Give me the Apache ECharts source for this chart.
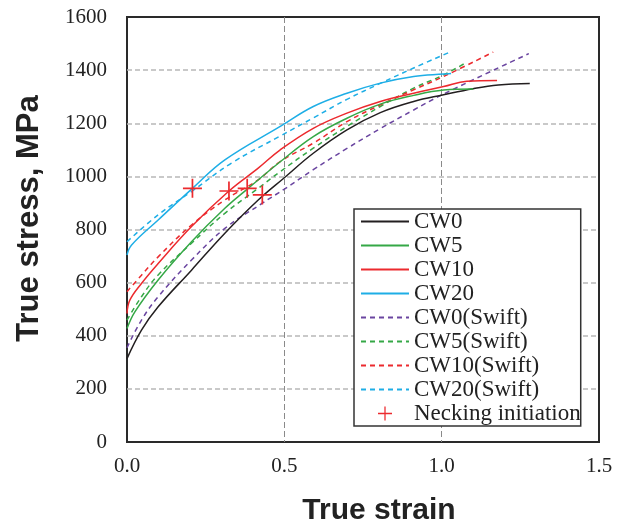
<!DOCTYPE html>
<html>
<head>
<meta charset="utf-8">
<script src="https://cdn.jsdelivr.net/npm/echarts@6/dist/echarts.min.js"></script>
<style>html,body{margin:0;padding:0;background:#fff;}#c{width:623px;height:524px;}</style>
</head>
<body>
<div id="c"></div>
<script>
// Tick labels
var xTickLabels = ['0.0', '0.5', '1.0', '1.5'];
var yTickLabels = ['0', '200', '400', '600', '800', '1000', '1200', '1400', '1600'];

// Experimental curves [true strain, true stress MPa]
var cw0 = [[0,314],[0.046,421],[0.099,509],[0.205,647],[0.311,786],[0.417,911],[0.5,995],[0.592,1087],[0.699,1175],[0.805,1240],[0.911,1282],[1.006,1307],[1.10,1330],[1.18,1344],[1.28,1350]];
var cw5 = [[0,427],[0.025,490],[0.099,610],[0.205,754],[0.311,880],[0.385,955],[0.487,1055],[0.592,1150],[0.699,1219],[0.805,1272],[0.911,1305],[1.006,1325],[1.10,1329]];
var cw10 = [[0,484],[0.009,534],[0.046,597],[0.099,672],[0.205,811],[0.324,945],[0.417,1031],[0.487,1100],[0.592,1181],[0.699,1238],[0.805,1282],[0.911,1313],[1.006,1338],[1.08,1358],[1.176,1361]];
var cw20 = [[0,704],[0.014,741],[0.099,836],[0.208,955],[0.311,1062],[0.487,1188],[0.592,1263],[0.699,1313],[0.805,1351],[0.911,1376],[1.006,1385],[1.03,1387]];

// Swift fits
var cw0Swift = [[0,355],[0.046,459],[0.099,547],[0.205,685],[0.311,804],[0.43,899],[0.5,952],[0.592,1025],[0.699,1105],[0.805,1180],[0.911,1250],[1.006,1310],[1.277,1462]];
var cw5Swift = [[0,459],[0.046,547],[0.099,629],[0.205,748],[0.311,861],[0.417,955],[0.487,1018],[0.592,1106],[0.699,1188],[0.805,1263],[0.911,1332],[1.006,1382],[1.08,1430]];
var cw10Swift = [[0,566],[0.046,628],[0.099,697],[0.205,817],[0.311,911],[0.417,987],[0.487,1056],[0.592,1125],[0.699,1206],[0.805,1269],[0.911,1326],[1.006,1376],[1.164,1468]];
var cw20Swift = [[0,754],[0.099,855],[0.205,943],[0.332,1050],[0.487,1152],[0.592,1220],[0.699,1290],[0.805,1350],[0.911,1408],[1.026,1468]];

// Necking initiation points
var necking = [[0.208,955],[0.324,945],[0.382,955],[0.43,930]];

var names = ['CW0','CW5','CW10','CW20','CW0(Swift)','CW5(Swift)','CW10(Swift)','CW20(Swift)','Necking initiation'];
var colors = ['#231f20','#35a846','#ec2a2e','#1eaee6','#6a45a0','#35a846','#ec2a2e','#1eaee6','#ec2a2e'];
var datasets = [cw0, cw5, cw10, cw20, cw0Swift, cw5Swift, cw10Swift, cw20Swift];

var plus = 'path://M9.1,0h1.8v20h-1.8z M0,9.1h20v1.8h-20z';

var series = datasets.map(function (d, i) {
  return {
    name: names[i],
    type: 'line',
    data: d,
    symbol: 'none',
    smooth: 0.4,
    z: i < 4 ? 3 : 2,
    lineStyle: { color: colors[i], width: 1.5, type: i < 4 ? 'solid' : [5, 4] },
    itemStyle: { color: colors[i] }
  };
});
series.push({
  name: names[8],
  type: 'scatter',
  data: necking,
  symbol: plus,
  symbolSize: 19,
  symbolKeepAspect: true,
  z: 5,
  itemStyle: { color: colors[8], opacity: 1 }
});

var chart = echarts.init(document.getElementById('c'), null, { renderer: 'canvas' });
chart.setOption({
  animation: false,
  backgroundColor: '#fff',
  grid: { left: 127, right: 24, top: 17, bottom: 82, outerBoundsMode: 'none', containLabel: false, show: true, borderColor: '#2a2a2a', borderWidth: 2, backgroundColor: 'transparent' },
  xAxis: {
    type: 'value', min: 0, max: 1.5, interval: 0.5,
    axisLine: { show: false }, axisTick: { show: false },
    splitLine: { show: true, showMinLine: false, showMaxLine: false, lineStyle: { color: '#8a8a8a', type: [6, 3], width: 1 } },
    axisLabel: {
      margin: 14, color: '#222', fontFamily: 'Liberation Serif', fontSize: 21,
      formatter: function (v) { return xTickLabels[Math.round(v / 0.5)]; }
    },
    name: 'True strain', nameLocation: 'middle', nameGap: 54,
    nameTextStyle: { fontFamily: 'Liberation Sans', fontWeight: 'bold', fontSize: 30, color: '#222', padding: [0, 0, 0, 32] }
  },
  yAxis: {
    type: 'value', min: 0, max: 1600, interval: 200,
    axisLine: { show: false }, axisTick: { show: false },
    splitLine: { show: true, showMinLine: false, showMaxLine: false, lineStyle: { color: '#b8b8b8', type: [5, 3], width: 1.5 } },
    axisLabel: {
      margin: 20, color: '#222', fontFamily: 'Liberation Serif', fontSize: 21,
      formatter: function (v) { return yTickLabels[Math.round(v / 200)]; }
    },
    name: 'True stress, MPa', nameLocation: 'middle', nameRotate: 90, nameGap: 82,
    nameTextStyle: { fontFamily: 'Liberation Sans', fontWeight: 'bold', fontSize: 31, color: '#222', padding: [0, 0, 0, 22] }
  },
  legend: {
    orient: 'vertical', left: 354, top: 209,
    backgroundColor: '#fff', borderColor: '#333', borderWidth: 1.5,
    padding: [1, 0, 1, 6],
    itemWidth: 48, itemHeight: 14, itemGap: 1,
    itemStyle: { opacity: 0 },
    textStyle: { fontFamily: 'Liberation Serif', fontSize: 23, color: '#222' },
    data: names.map(function (n, i) {
      if (i === 8) return { name: n, icon: plus, itemStyle: { color: colors[8], opacity: 1 } };
      return { name: n };
    })
  },
  series: series
});
</script>
</body>
</html>
